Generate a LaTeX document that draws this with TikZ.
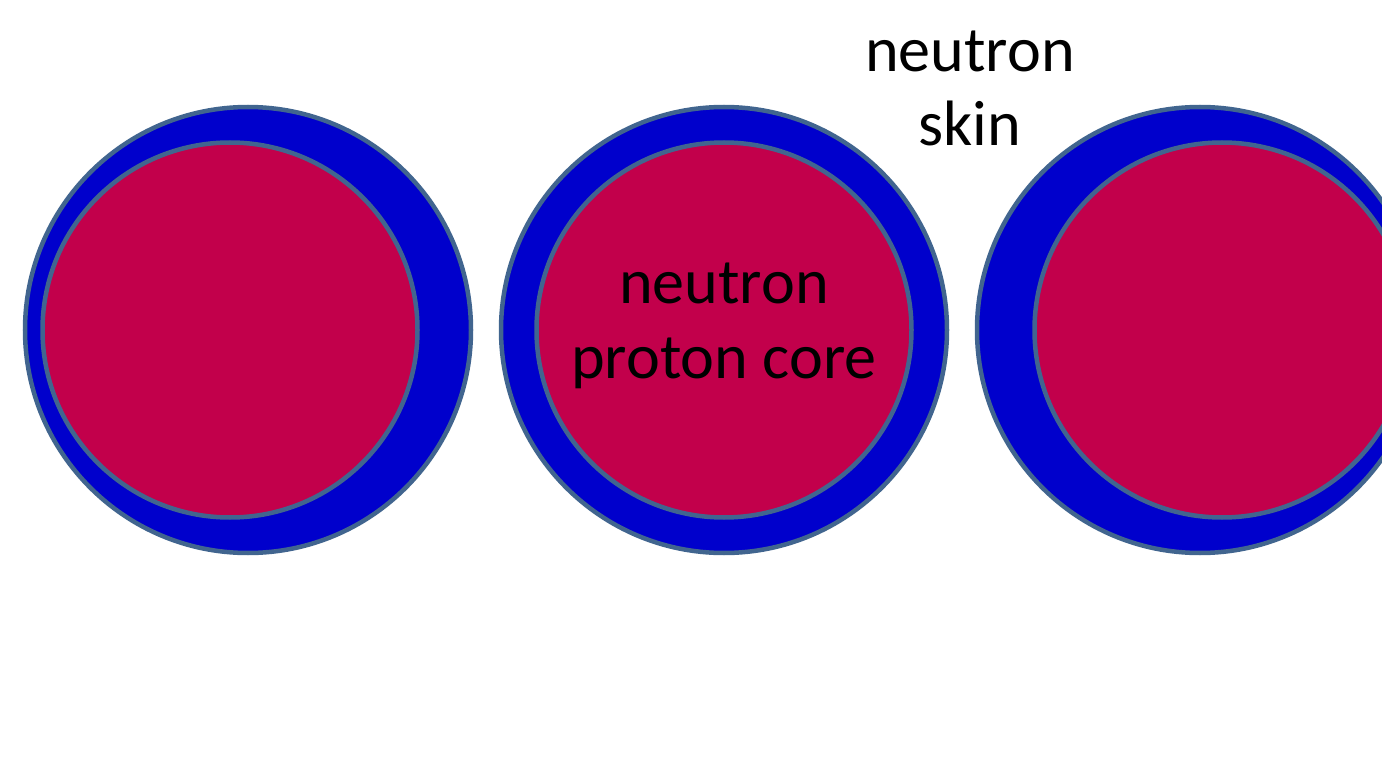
\documentclass[tikz,border=0pt]{standalone}
\usepackage{fontspec}
\setmainfont{Carlito}
\definecolor{skinblue}{HTML}{0000CC}
\definecolor{corered}{HTML}{C2004B}
\definecolor{rimgray}{HTML}{41658F}
\begin{document}
\begin{tikzpicture}[
  skin/.style={fill=skinblue,draw=rimgray,line width=0.09cm},
  core/.style={fill=corered,draw=rimgray,line width=0.09cm},
  lbl/.style={align=center,inner sep=0pt,font=\fontsize{36.5}{42.5}\selectfont}]
  \useasboundingbox (0,0) rectangle (27.64,15.66);
  % the three nuclei, core shifted inside the skin
  \draw[skin] (4.96,9.06) circle[radius=4.46cm];
  \draw[core] (4.60,9.06) circle[radius=3.75cm];
  \draw[skin] (14.48,9.06) circle[radius=4.46cm];
  \draw[core] (14.48,9.06) circle[radius=3.75cm];
  \draw[skin] (24.00,9.06) circle[radius=4.46cm];
  \draw[core] (24.44,9.06) circle[radius=3.75cm];
  % labels
  \node[lbl] (corelbl) at (14.48,9.14) {neutron\\proton core};
  \node[lbl] (skinlbl) at (19.40,13.89) {neutron\\skin};
\end{tikzpicture}
\end{document}
